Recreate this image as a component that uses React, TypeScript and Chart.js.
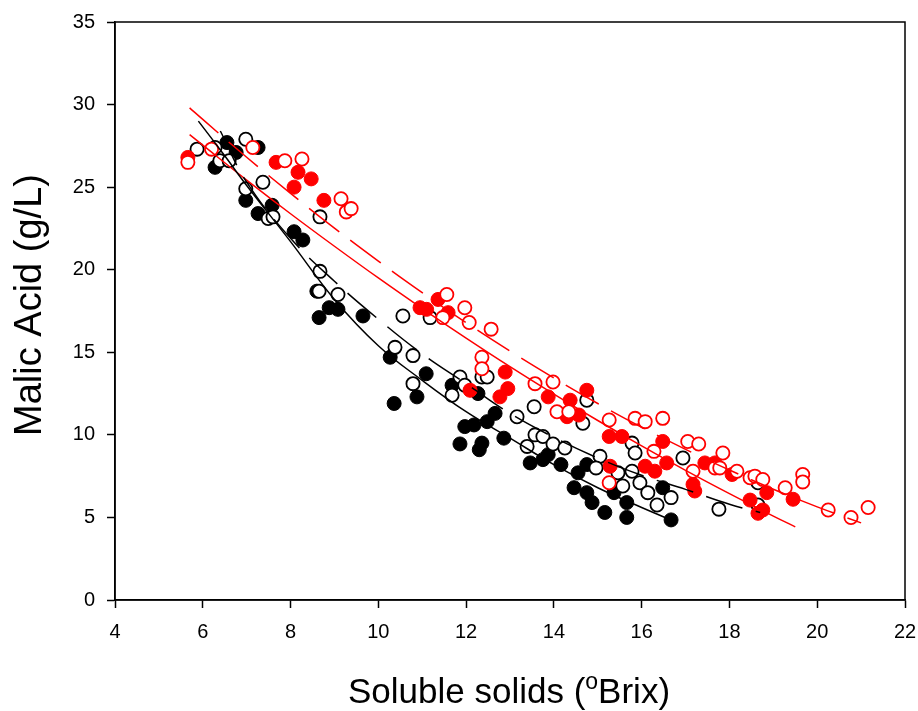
import React, { useEffect, useRef } from "react";
import { Chart, registerables } from "chart.js";
Chart.register(...registerables);

// Black filled
const bfX = [6.28, 6.55, 6.76, 7.26, 6.98, 7.26, 7.58, 8.08, 8.28, 8.6, 8.65, 8.88, 9.08, 9.65, 10.27, 10.36, 10.88, 11.09, 11.68, 12.27, 12.66, 12.48, 11.97, 12.18, 11.86, 12.36, 12.3, 12.86, 13.46, 13.75, 13.87, 14.16, 14.55, 14.75, 14.46, 14.75, 14.87, 15.16, 15.37, 15.66, 15.66, 16.48, 16.67];
const bfY = [26.2, 27.7, 27.1, 27.4, 24.2, 23.4, 23.9, 22.3, 21.8, 18.7, 17.1, 17.7, 17.6, 17.2, 14.7, 11.9, 12.3, 13.7, 13.0, 12.5, 11.3, 10.8, 10.5, 10.6, 9.45, 9.5, 9.1, 9.8, 8.3, 8.5, 8.8, 8.2, 7.7, 8.2, 6.8, 6.5, 5.9, 5.3, 6.5, 5.9, 5.0, 6.8, 4.85];
// Black open
const boX = [5.87, 6.28, 6.98, 6.39, 6.6, 7.37, 6.98, 7.49, 7.6, 8.67, 8.67, 8.65, 9.08, 10.56, 11.18, 10.38, 10.79, 10.79, 11.68, 11.86, 11.97, 12.36, 12.48, 13.16, 13.55, 13.39, 13.57, 13.75, 13.98, 14.66, 14.75, 14.25, 15.05, 14.96, 15.78, 15.85, 15.46, 15.78, 15.96, 15.57, 16.14, 16.35, 16.67, 16.94, 18.65, 18.65, 17.76];
const boY = [27.3, 27.4, 27.9, 26.6, 26.6, 25.3, 24.9, 23.1, 23.2, 23.2, 19.9, 18.7, 18.5, 17.2, 17.1, 15.3, 14.8, 13.1, 12.4, 13.5, 13.0, 13.5, 13.5, 11.1, 11.7, 9.3, 10.0, 9.9, 9.45, 10.7, 12.1, 9.2, 8.7, 8.0, 9.5, 8.9, 7.7, 7.8, 7.1, 6.9, 6.5, 5.75, 6.2, 8.6, 7.1, 5.75, 5.5];
// Red filled
const rfX = [5.66, 7.67, 8.17, 8.47, 8.08, 8.76, 10.95, 11.1, 11.36, 11.59, 12.09, 12.89, 12.95, 12.77, 13.87, 14.37, 14.75, 14.3, 14.57, 15.26, 15.55, 16.48, 16.08, 16.3, 16.57, 15.28, 17.17, 17.21, 17.44, 17.67, 18.06, 18.47, 18.85, 18.65, 18.76, 19.45];
const rfY = [26.8, 26.5, 25.9, 25.5, 25.0, 24.2, 17.7, 17.6, 18.2, 17.4, 12.7, 13.8, 12.8, 12.3, 12.3, 12.1, 12.7, 11.1, 11.2, 9.9, 9.9, 9.6, 8.1, 7.8, 8.3, 8.1, 7.0, 6.6, 8.3, 8.3, 7.6, 6.05, 6.5, 5.25, 5.45, 6.1];
// Red open
const roX = [5.66, 6.2, 7.14, 7.87, 8.26, 9.15, 9.27, 9.38, 11.56, 11.47, 11.97, 12.07, 12.57, 12.36, 12.36, 13.57, 13.98, 14.07, 14.34, 15.26, 15.85, 16.08, 16.48, 16.28, 17.05, 17.3, 15.26, 17.17, 17.85, 17.67, 17.78, 18.17, 18.47, 18.58, 18.76, 19.27, 19.67, 19.67, 20.25, 20.77, 21.16];
const roY = [26.5, 27.3, 27.4, 26.6, 26.7, 24.3, 23.5, 23.7, 18.5, 17.1, 17.7, 16.8, 16.4, 14.7, 14.0, 13.1, 13.2, 11.4, 11.4, 10.9, 11.0, 10.8, 11.0, 9.0, 9.6, 9.45, 7.1, 7.8, 8.9, 8.0, 8.0, 7.8, 7.4, 7.5, 7.3, 6.8, 7.6, 7.15, 5.45, 5.0, 5.6];

// Fitted curves
const bSolidX = [5.9, 6.5, 7, 8, 9, 10, 11, 12, 13, 14, 15, 16, 16.8];
const bSolidY = [29.0, 26.9, 25.1, 21.7, 18.2, 15.4, 13.3, 11.4, 9.8, 8.2, 6.8, 5.6, 4.7];
const bDashX = [6.4, 7, 8, 9, 10, 11, 12, 13, 14, 15, 16, 17, 18, 18.7];
const bDashY = [28.4, 25.3, 21.9, 19.3, 17.0, 14.9, 13.1, 11.3, 9.85, 8.6, 7.55, 6.7, 5.8, 5.3];
const rDashX = [5.7, 6, 7, 8, 9, 10, 11, 12, 13, 14, 15, 16, 17, 18, 19, 20, 21];
const rDashY = [29.8, 29.1, 26.81, 24.62, 22.52, 20.52, 18.61, 16.79, 15.07, 13.44, 11.9, 10.46, 9.12, 7.87, 6.71, 5.64, 4.67];
const rSolidX = [5.7, 6, 7, 8, 9, 10, 11, 12, 13, 14, 15, 16, 17, 18, 19, 19.5];
const rSolidY = [28.18, 27.54, 25.43, 23.39, 21.42, 19.5, 17.65, 15.86, 14.13, 12.47, 10.87, 9.33, 7.85, 6.44, 5.08, 4.43];

const xTicks = [4, 6, 8, 10, 12, 14, 16, 18, 20, 22];
const yTicks = [0, 5, 10, 15, 20, 25, 30, 35];

const yTitle = "Malic Acid (g/L)";
const xTitleA = "Soluble solids (";
const xTitleSup = "o";
const xTitleB = "Brix)";

const FONT = "'Liberation Sans', Arial, sans-serif";

const pts = (xs: number[], ys: number[]) => xs.map((x, i) => ({ x, y: ys[i] }));

const framePlugin = {
  id: "frameTitles",
  afterDraw(chart: any) {
    const { ctx, chartArea } = chart;
    ctx.save();
    ctx.strokeStyle = "#000";
    ctx.lineWidth = 1.5;
    ctx.strokeRect(chartArea.left, chartArea.top, chartArea.right - chartArea.left, chartArea.bottom - chartArea.top);
    // y title
    ctx.fillStyle = "#000";
    ctx.font = `38px ${FONT}`;
    ctx.textAlign = "center";
    ctx.textBaseline = "middle";
    ctx.translate(31, 305);
    ctx.rotate(-Math.PI / 2);
    ctx.fillText(yTitle, 0, 0);
    ctx.restore();
    // x title with superscript
    ctx.save();
    ctx.fillStyle = "#000";
    ctx.textBaseline = "alphabetic";
    ctx.textAlign = "left";
    const big = `35px ${FONT}`;
    const small = `23px ${FONT}`;
    ctx.font = big;
    const wA = ctx.measureText(xTitleA).width;
    const wB = ctx.measureText(xTitleB).width;
    ctx.font = small;
    const wS = ctx.measureText(xTitleSup).width;
    const total = wA + wS + wB;
    const x0 = 509 - total / 2;
    const base = 703;
    ctx.font = big;
    ctx.fillText(xTitleA, x0, base);
    ctx.font = small;
    ctx.fillText(xTitleSup, x0 + wA, base - 14);
    ctx.font = big;
    ctx.fillText(xTitleB, x0 + wA + wS, base);
    ctx.restore();
  },
};

export default function App() {
  const ref = useRef<HTMLCanvasElement | null>(null);
  useEffect(() => {
    if (!ref.current) return;
    const filled = (color: string) => ({
      showLine: false,
      pointRadius: 7,
      pointBorderWidth: 1,
      pointBackgroundColor: color,
      pointBorderColor: color,
      backgroundColor: color,
      borderColor: color,
    });
    const open = (color: string) => ({
      showLine: false,
      pointRadius: 6.6,
      pointBorderWidth: 1.8,
      pointBackgroundColor: "#fff",
      pointBorderColor: color,
      backgroundColor: "#fff",
      borderColor: color,
    });
    const curve = (color: string, dash: number[]) => ({
      showLine: true,
      pointRadius: 0,
      borderColor: color,
      borderWidth: 1.5,
      borderDash: dash,
      tension: 0.4,
      fill: false,
    });
    const chart = new Chart(ref.current, {
      type: "scatter",
      data: {
        datasets: [
          { data: pts(bSolidX, bSolidY), ...curve("#000", []), order: 0 },
          { data: pts(bDashX, bDashY), ...curve("#000", [38, 14]), order: 0 },
          { data: pts(rSolidX, rSolidY), ...curve("#ff0000", []), order: 0 },
          { data: pts(rDashX, rDashY), ...curve("#ff0000", [38, 14]), order: 0 },
          { data: pts(roX, roY), ...open("#ff0000"), order: 1 },
          { data: pts(rfX, rfY), ...filled("#ff0000"), order: 2 },
          { data: pts(boX, boY), ...open("#000"), order: 3 },
          { data: pts(bfX, bfY), ...filled("#000"), order: 4 },
        ] as any,
      },
      options: {
        animation: false,
        responsive: false,
        maintainAspectRatio: false,
        layout: { padding: { left: 0, right: 13, top: 22, bottom: 0 } },
        plugins: { legend: { display: false }, tooltip: { enabled: false } },
        scales: {
          x: {
            type: "linear",
            min: 4,
            max: 22,
            afterFit: (s: any) => { s.height = 111; s.paddingLeft = 0; s.paddingRight = 0; },
            afterBuildTicks: (s: any) => { s.ticks = xTicks.map((v) => ({ value: v })); },
            ticks: { color: "#000", font: { family: FONT, size: 20 }, padding: 12, maxRotation: 0 },
            grid: { drawOnChartArea: false, drawTicks: true, tickLength: 8, color: "#000", tickColor: "#000", tickWidth: 1.5 },
            border: { display: true, color: "#000", width: 1.5 },
          },
          y: {
            type: "linear",
            min: 0,
            max: 35,
            afterFit: (s: any) => { s.width = 115; s.paddingTop = 0; s.paddingBottom = 0; },
            afterBuildTicks: (s: any) => { s.ticks = yTicks.map((v) => ({ value: v })); },
            ticks: { color: "#000", font: { family: FONT, size: 20 }, padding: 12 },
            grid: { drawOnChartArea: false, drawTicks: true, tickLength: 8, color: "#000", tickColor: "#000", tickWidth: 1.5 },
            border: { display: true, color: "#000", width: 1.5 },
          },
        },
      } as any,
      plugins: [framePlugin],
    });
    return () => chart.destroy();
  }, []);
  return (
    <div style={{ position: "fixed", left: 0, top: 0, width: 918, height: 711, background: "#fff" }}>
      <canvas ref={ref} width={918} height={711} style={{ display: "block" }} />
    </div>
  );
}
